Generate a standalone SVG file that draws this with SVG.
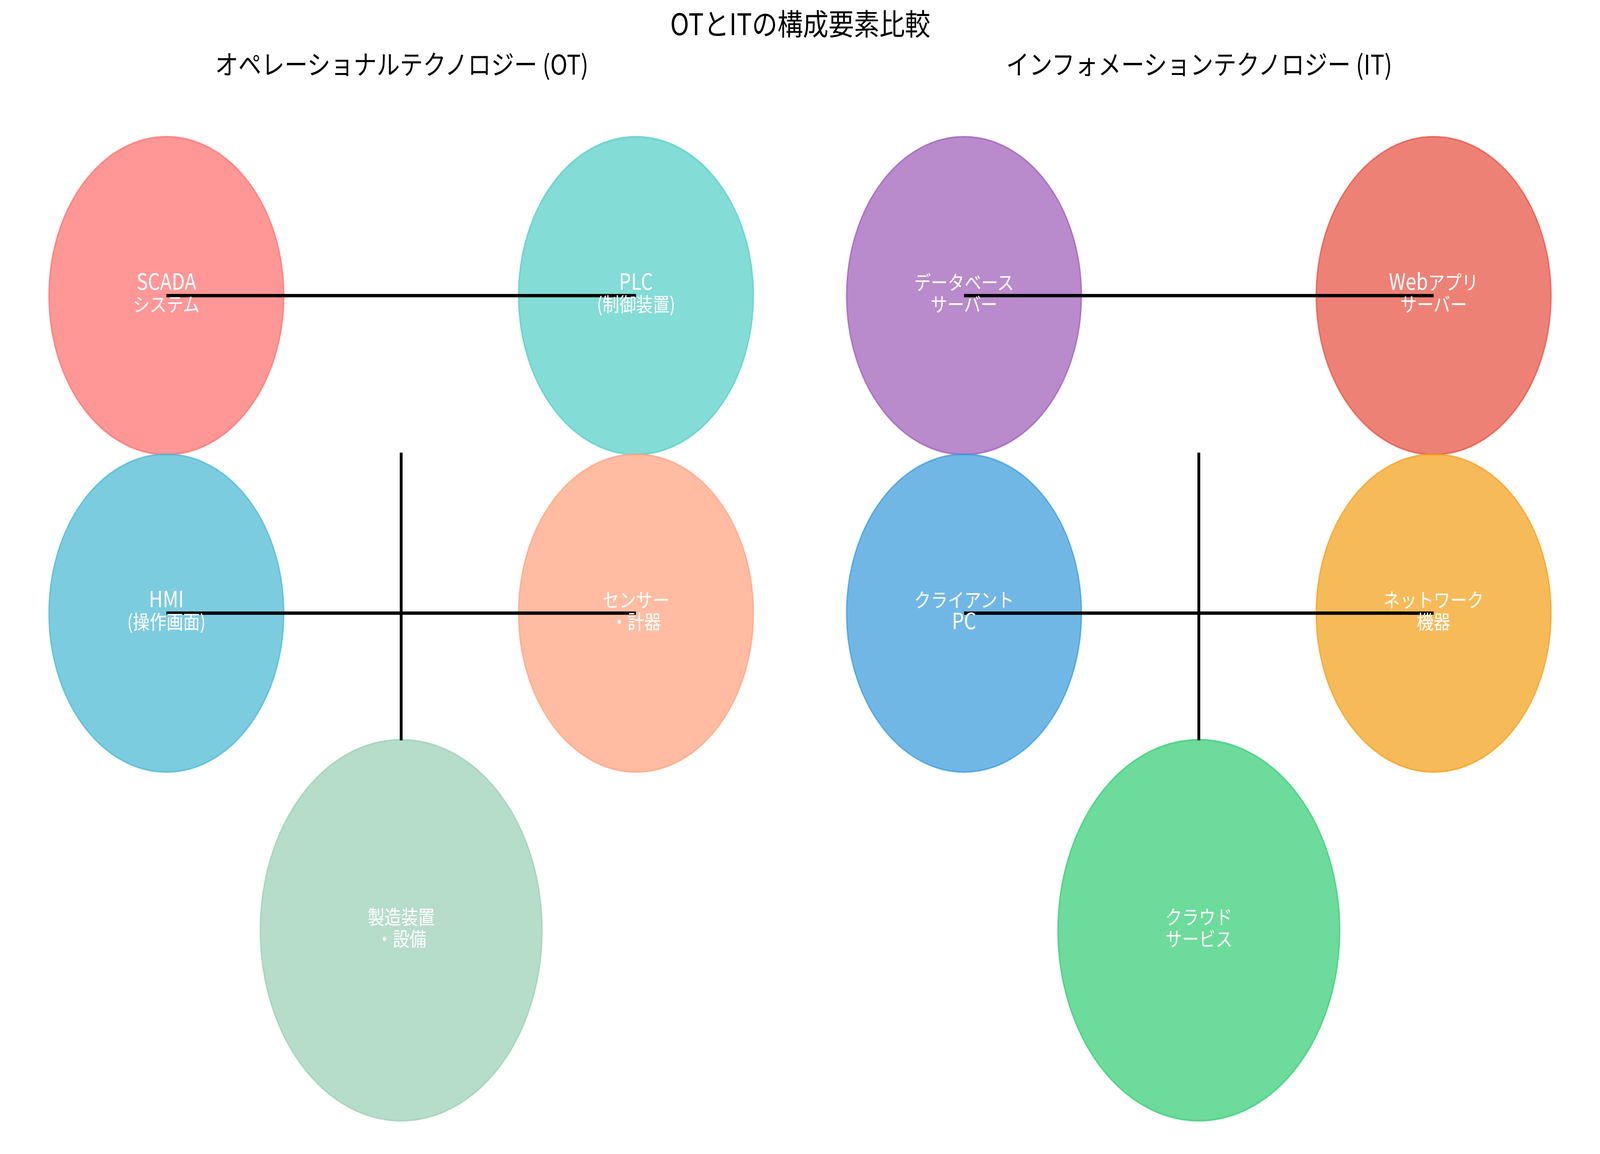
<svg xmlns="http://www.w3.org/2000/svg" width="4770" height="2955" viewBox="0 0 4770 2955" preserveAspectRatio="none" style="width:100vw;height:100vh;display:block">
<style>
.t{font-family:"Noto Sans CJK JP","Noto Sans",sans-serif;text-anchor:middle;fill:#000}
.title{font-size:76px}
.sub{font-size:69px}
.lbl{font-family:"Noto Sans CJK JP","Noto Sans",sans-serif;text-anchor:middle;fill:#fff;font-size:50px}
.lat{font-size:57px}
.n{fill-opacity:0.7;stroke-opacity:0.7;stroke-width:4}
.c{stroke:#000;stroke-width:8.3;fill:none;stroke-linecap:butt}
</style>
<rect width="4770" height="2955" fill="#fff"/>
<text class="t title" x="2386" y="90">OTとITの構成要素比較</text>
<text class="t sub" x="1198" y="191">オペレーショナルテクノロジー (OT)</text>
<text class="t sub" x="3575" y="191">インフォメーションテクノロジー (IT)</text>

<g id="shapes">
<ellipse id="e-scada" class="n" cx="496" cy="757" rx="350" ry="407" fill="#FF6B6B" stroke="#FF6B6B"/>
<ellipse id="e-plc" class="n" cx="1896" cy="757" rx="350" ry="407" fill="#4ECDC4" stroke="#4ECDC4"/>
<ellipse id="e-hmi" class="n" cx="496" cy="1570" rx="350" ry="407" fill="#45B7D1" stroke="#45B7D1"/>
<ellipse id="e-sensor" class="n" cx="1896" cy="1570" rx="350" ry="407" fill="#FFA07A" stroke="#FFA07A"/>
<ellipse id="e-mfg" class="n" cx="1196" cy="2382" rx="420" ry="488" fill="#96CEB4" stroke="#96CEB4"/>
<ellipse id="e-db" class="n" cx="2874" cy="757" rx="350" ry="407" fill="#9B59B6" stroke="#9B59B6"/>
<ellipse id="e-web" class="n" cx="4274" cy="757" rx="350" ry="407" fill="#E74C3C" stroke="#E74C3C"/>
<ellipse id="e-pc" class="n" cx="2874" cy="1570" rx="350" ry="407" fill="#3498DB" stroke="#3498DB"/>
<ellipse id="e-net" class="n" cx="4274" cy="1570" rx="350" ry="407" fill="#F39C12" stroke="#F39C12"/>
<ellipse id="e-cloud" class="n" cx="3574" cy="2382" rx="420" ry="488" fill="#2ECC71" stroke="#2ECC71"/>
</g>

<g id="connectors">
<line class="c" x1="496" y1="757" x2="1896" y2="757"/>
<line class="c" x1="496" y1="1570" x2="1896" y2="1570"/>
<line class="c" x1="1196" y1="1159" x2="1196" y2="1896"/>
<line class="c" x1="2874" y1="757" x2="4274" y2="757"/>
<line class="c" x1="2874" y1="1570" x2="4274" y2="1570"/>
<line class="c" x1="3574" y1="1159" x2="3574" y2="1896"/>
</g>

<g id="node-scada"><text class="lbl" x="496" y="742"><tspan class="lat">SCADA</tspan></text><text class="lbl" x="496" y="798">システム</text></g>
<g id="node-plc"><text class="lbl" x="1896" y="742"><tspan class="lat">PLC</tspan></text><text class="lbl" x="1896" y="798">(制御装置)</text></g>
<g id="node-hmi"><text class="lbl" x="496" y="1555"><tspan class="lat">HMI</tspan></text><text class="lbl" x="496" y="1611">(操作画面)</text></g>
<g id="node-sensor"><text class="lbl" x="1896" y="1555">センサー</text><text class="lbl" x="1896" y="1611">・計器</text></g>
<g id="node-mfg"><text class="lbl" x="1196" y="2367">製造装置</text><text class="lbl" x="1196" y="2423">・設備</text></g>
<g id="node-db"><text class="lbl" x="2874" y="742">データベース</text><text class="lbl" x="2874" y="798">サーバー</text></g>
<g id="node-web"><text class="lbl" x="4274" y="742"><tspan class="lat">Web</tspan>アプリ</text><text class="lbl" x="4274" y="798">サーバー</text></g>
<g id="node-pc"><text class="lbl" x="2874" y="1555">クライアント</text><text class="lbl" x="2874" y="1611"><tspan class="lat">PC</tspan></text></g>
<g id="node-net"><text class="lbl" x="4274" y="1555">ネットワーク</text><text class="lbl" x="4274" y="1611">機器</text></g>
<g id="node-cloud"><text class="lbl" x="3574" y="2367">クラウド</text><text class="lbl" x="3574" y="2423">サービス</text></g>
</svg>
